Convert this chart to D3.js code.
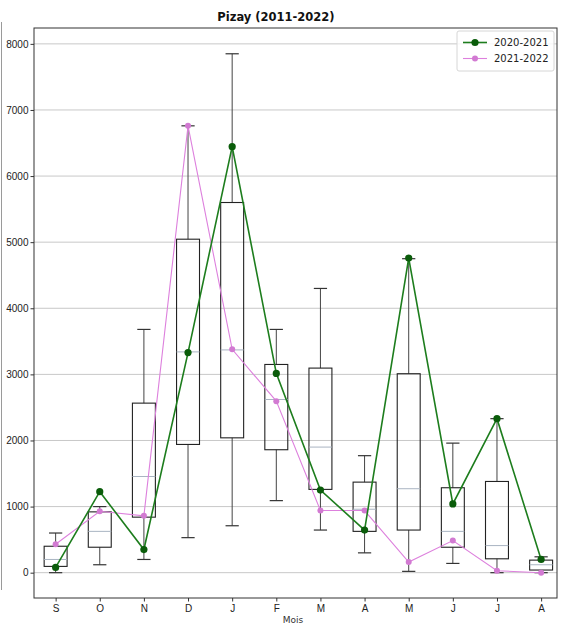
<!DOCTYPE html>
<html>
<head>
<meta charset="utf-8">
<script src="https://cdn.jsdelivr.net/npm/d3@7"></script>
<style>
  html, body { margin: 0; padding: 0; background: #fff; }
  svg { display: block; font-family: "DejaVu Sans", sans-serif; }
</style>
</head>
<body>
<div id="viz"></div>
<script>
const months = ["S", "O", "N", "D", "J", "F", "M", "A", "M", "J", "J", "A"];

// box stats per month (2011-2022)
const whiskerLow = [0, 120, 200, 530, 710, 1090, 645, 300, 20, 140, 0, 0];
const q1 = [95, 385, 840, 1940, 2040, 1860, 1260, 625, 645, 385, 210, 40];
const medians = [200, 625, 1455, 3340, 3370, 2620, 1900, 960, 1270, 625, 410, 120];
const q3 = [400, 920, 2565, 5045, 5600, 3150, 3095, 1370, 3010, 1285, 1380, 190];
const whiskerHigh = [600, 1000, 3680, 6760, 7850, 3680, 4300, 1770, 4750, 1960, 2330, 240];

// seasons
const season2021 = [80, 1225, 350, 3330, 6445, 3015, 1250, 645, 4760, 1040, 2330, 200];
const season2122 = [430, 930, 860, 6760, 3380, 2595, 940, 940, 160, 485, 30, 0];

const yTicks = [0, 1000, 2000, 3000, 4000, 5000, 6000, 7000, 8000];

const W = 564, H = 627;
const plotL = 34, plotR = 557, plotT = 28, plotB = 598;

const svg = d3.select("#viz").append("svg")
  .attr("width", W)
  .attr("height", H);

const x = d3.scaleLinear().domain([0.51, 12.36]).range([plotL, plotR]);
const y = d3.scaleLinear().domain([-383, 8240]).range([plotB, plotT]);

// odd frame line on the far left of the figure
svg.append("line")
  .attr("x1", 1.5).attr("x2", 1.5)
  .attr("y1", 22).attr("y2", 590)
  .attr("stroke", "#9a9a9a").attr("stroke-width", 1);

// grid
svg.append("g")
  .selectAll("line")
  .data(yTicks)
  .join("line")
  .attr("x1", plotL).attr("x2", plotR)
  .attr("y1", d => y(d)).attr("y2", d => y(d))
  .attr("stroke", "#c8c8c8")
  .attr("stroke-width", 1);

// axes
const yAxis = svg.append("g")
  .attr("transform", `translate(${plotL},0)`)
  .call(d3.axisLeft(y).tickValues(yTicks).tickSize(3.5).tickPadding(2).tickFormat(d3.format("d")));
yAxis.select(".domain").remove();
yAxis.selectAll("text").style("font-size", "10px").attr("fill", "#222");
yAxis.selectAll("line").attr("stroke", "#333");

const xAxis = svg.append("g")
  .attr("transform", `translate(0,${plotB})`)
  .call(d3.axisBottom(x).tickValues(d3.range(1, 13)).tickSize(3.5).tickPadding(3).tickFormat(i => months[i - 1]));
xAxis.select(".domain").remove();
xAxis.selectAll("text").style("font-size", "10px").attr("fill", "#222");
xAxis.selectAll("line").attr("stroke", "#333");

// boxes
const bw = x(1.26) - x(1);
const cw = x(1.15) - x(1);
const stats = months.map((m, i) => ({
  pos: i + 1, lo: whiskerLow[i], q1: q1[i], med: medians[i], q3: q3[i], hi: whiskerHigh[i]
}));

const box = svg.append("g").selectAll("g").data(stats).join("g");

box.append("line")
  .attr("x1", d => x(d.pos)).attr("x2", d => x(d.pos))
  .attr("y1", d => y(d.q3)).attr("y2", d => y(d.hi))
  .attr("stroke", "#444").attr("stroke-width", 1);
box.append("line")
  .attr("x1", d => x(d.pos)).attr("x2", d => x(d.pos))
  .attr("y1", d => y(d.q1)).attr("y2", d => y(d.lo))
  .attr("stroke", "#444").attr("stroke-width", 1);
box.append("line")
  .attr("x1", d => x(d.pos) - cw).attr("x2", d => x(d.pos) + cw)
  .attr("y1", d => y(d.hi)).attr("y2", d => y(d.hi))
  .attr("stroke", "#333").attr("stroke-width", 1.2);
box.append("line")
  .attr("x1", d => x(d.pos) - cw).attr("x2", d => x(d.pos) + cw)
  .attr("y1", d => y(d.lo)).attr("y2", d => y(d.lo))
  .attr("stroke", "#333").attr("stroke-width", 1.2);
box.append("rect")
  .attr("x", d => x(d.pos) - bw)
  .attr("width", 2 * bw)
  .attr("y", d => y(d.q3))
  .attr("height", d => y(d.q1) - y(d.q3))
  .attr("fill", "none")
  .attr("stroke", "#222").attr("stroke-width", 1.1);
box.append("line")
  .attr("x1", d => x(d.pos) - bw).attr("x2", d => x(d.pos) + bw)
  .attr("y1", d => y(d.med)).attr("y2", d => y(d.med))
  .attr("stroke", "#a9b4c2").attr("stroke-width", 1);

// season lines
const line = d3.line().x((d, i) => x(i + 1)).y(d => y(d));

svg.append("path")
  .datum(season2122)
  .attr("d", line)
  .attr("fill", "none")
  .attr("stroke", "#dd80dd").attr("stroke-width", 1.1);
svg.append("g").selectAll("circle")
  .data(season2122)
  .join("circle")
  .attr("cx", (d, i) => x(i + 1)).attr("cy", d => y(d))
  .attr("r", 3).attr("fill", "#d27ad2");

svg.append("path")
  .datum(season2021)
  .attr("d", line)
  .attr("fill", "none")
  .attr("stroke", "#1d7d1d").attr("stroke-width", 1.6);
svg.append("g").selectAll("circle")
  .data(season2021)
  .join("circle")
  .attr("cx", (d, i) => x(i + 1)).attr("cy", d => y(d))
  .attr("r", 3.6).attr("fill", "#0a5c0a");

// plot frame
svg.append("rect")
  .attr("x", plotL).attr("y", plotT)
  .attr("width", plotR - plotL).attr("height", plotB - plotT)
  .attr("fill", "none").attr("stroke", "#333").attr("stroke-width", 1);

// legend
const lg = svg.append("g").attr("transform", "translate(457,31)");
lg.append("rect")
  .attr("width", 97).attr("height", 40).attr("rx", 2)
  .attr("fill", "#fff").attr("fill-opacity", 0.85)
  .attr("stroke", "#d6d6d6");
const legendItems = [
  { name: "2020-2021", line: "#1d7d1d", dot: "#0a5c0a", r: 3.6, w: 1.6 },
  { name: "2021-2022", line: "#dd80dd", dot: "#d27ad2", r: 3, w: 1.1 }
];
legendItems.forEach((it, i) => {
  const yy = 11.5 + i * 16;
  lg.append("line").attr("x1", 6).attr("x2", 30).attr("y1", yy).attr("y2", yy)
    .attr("stroke", it.line).attr("stroke-width", it.w);
  lg.append("circle").attr("cx", 18).attr("cy", yy).attr("r", it.r).attr("fill", it.dot);
  lg.append("text").attr("x", 37).attr("y", yy + 3.5)
    .style("font-size", "10px").attr("fill", "#222").text(it.name);
});

// title + x label
svg.append("text")
  .attr("x", 276).attr("y", 21)
  .attr("text-anchor", "middle")
  .style("font-size", "11.5px").style("font-weight", "bold")
  .attr("fill", "#111")
  .text("Pizay (2011-2022)");

svg.append("text")
  .attr("x", 293).attr("y", 623)
  .attr("text-anchor", "middle")
  .style("font-size", "9px").attr("fill", "#333")
  .text("Mois");
</script>
</body>
</html>
